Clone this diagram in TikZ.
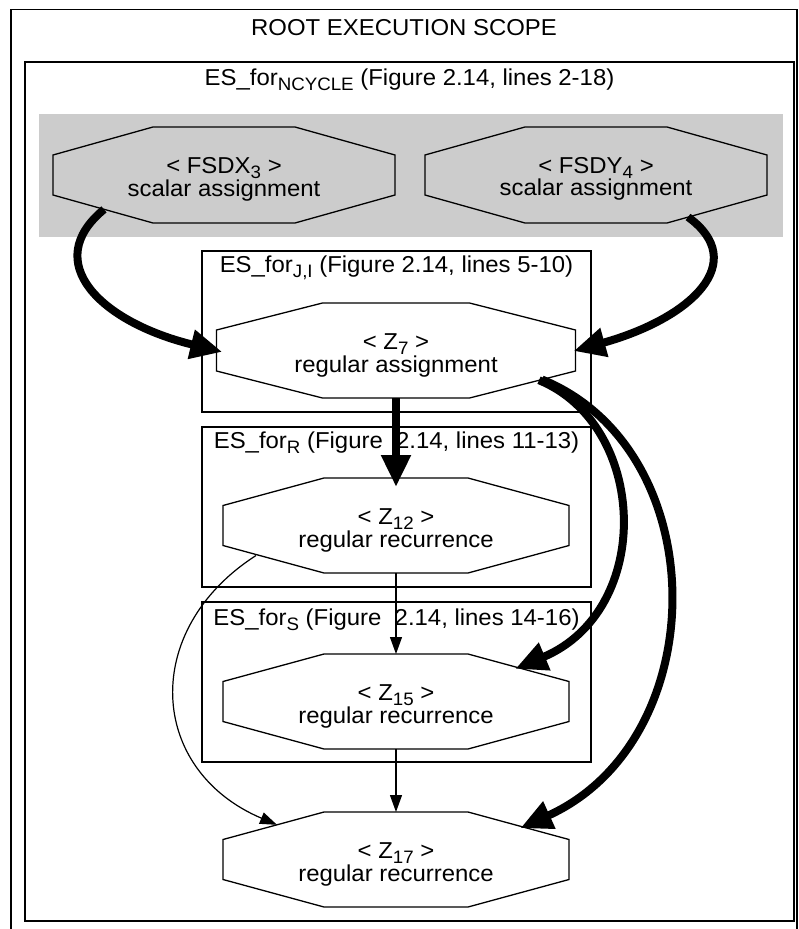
\documentclass[tikz,border=0pt]{standalone}
\usepackage{fontspec}
\setmainfont[FakeStretch=1.04]{Liberation Sans}
\usetikzlibrary{arrows.meta,calc}

% lowered, smaller text used for subscripts in labels
\newcommand{\lowsub}[1]{\raisebox{-5pt}{\fontsize{18}{18}\selectfont #1}}

% octagonal outline around a node: node name, horizontal cut, vertical cut
\newcommand{\octagon}[3]{%
  \draw[octline] ($(#1.north west)+(#2,0)$) -- ($(#1.north east)+(-#2,0)$)
    -- ($(#1.north east)+(0,#3)$) -- ($(#1.south east)+(0,-#3)$)
    -- ($(#1.south east)+(-#2,0)$) -- ($(#1.south west)+(#2,0)$)
    -- ($(#1.south west)+(0,-#3)$) -- ($(#1.north west)+(0,#3)$) -- cycle;}

\tikzset{
  labeltext/.style={font=\fontsize{23}{19}\selectfont, inner sep=0pt},
  stmttext/.style={font=\fontsize{23}{19}\selectfont, inner sep=0pt, align=center},
  scopebox/.style={draw, line width=1.4pt, inner sep=0pt, outer sep=0pt},
  stmtbox/.style={inner sep=0pt, outer sep=0pt, minimum width=346pt, minimum height=95pt},
  octline/.style={line width=1.3pt, line join=miter},
  thinedge/.style={-{Triangle[length=17pt,width=12pt]}, line width=1.2pt},
  heavyedge/.style={-{Triangle[length=32pt,width=28pt]}, line width=8pt},
}

\begin{document}
\begin{tikzpicture}[x=1pt,y=-1pt]
\useasboundingbox (0,0) rectangle (798,929);

% root scope (open at the bottom)
\draw[line width=1.4pt] (11,935) -- (11,9.5) -- (797,9.5) -- (797,935);
\node[labeltext] (rootlbl) at (404,28) {ROOT EXECUTION SCOPE};

% ES_for NCYCLE scope
\node[scopebox, minimum width=769pt, minimum height=859pt] (ncycle) at (409.5,491.5) {};
\node[labeltext] (ncyclelbl) at (409.5,80) {ES\_for\lowsub{NCYCLE} (Figure 2.14, lines 2-18)};

% shaded band holding the scalar assignments
\fill[gray!40] (39,114) rectangle (783,237);

% inner scopes
\node[scopebox, minimum width=389pt, minimum height=161pt] (scopeJI) at (396.5,331.5) {};
\node[labeltext] (lblJI) at (396.5,268) {ES\_for\lowsub{J,I} (Figure 2.14, lines 5-10)};
\node[scopebox, minimum width=389pt, minimum height=160pt] (scopeR) at (396.5,507) {};
\node[labeltext] (lblR) at (396.5,443) {ES\_for\lowsub{R} (Figure~ 2.14, lines 11-13)};
\node[scopebox, minimum width=389pt, minimum height=160pt] (scopeS) at (396.5,682) {};
\node[labeltext] (lblS) at (396.5,620) {ES\_for\lowsub{S} (Figure~ 2.14, lines 14-16)};

% statements: outline holders
\node[stmtbox, minimum width=342pt, minimum height=96pt] (fsdx) at (224,175) {};
\node[stmtbox, minimum width=342pt, minimum height=96pt] (fsdy) at (596,175) {};
\node[stmtbox, minimum width=359pt] (z7) at (396,350.5) {};
\node[stmtbox] (z12) at (396,525.5) {};
\node[stmtbox] (z15) at (396,701.5) {};
\node[stmtbox] (z17) at (396,859.5) {};
\octagon{fsdx}{100}{28}
\octagon{fsdy}{100}{28}
\octagon{z7}{106}{27}
\octagon{z12}{101}{27.5}
\octagon{z15}{101}{27.5}
\octagon{z17}{101}{27.5}

% statement texts
\node[stmttext] (fsdxt) at ($(fsdx.center)+(0,4)$) {< FSDX\lowsub{3} >\\scalar assignment};
\node[stmttext] (fsdyt) at ($(fsdy.center)+(0,4)$) {< FSDY\lowsub{4} >\\scalar assignment};
\node[stmttext] (z7t) at ($(z7.center)+(0,5)$) {< Z\lowsub{7} >\\regular assignment};
\node[stmttext] (z12t) at ($(z12.center)+(0,5)$) {< Z\lowsub{12} >\\regular recurrence};
\node[stmttext] (z15t) at ($(z15.center)+(0,5)$) {< Z\lowsub{15} >\\regular recurrence};
\node[stmttext] (z17t) at ($(z17.center)+(0,5)$) {< Z\lowsub{17} >\\regular recurrence};

% dependences
\draw[heavyedge, shorten >=-6pt] ($(fsdx.center)+(-120,34.4)$) .. controls (40,262) and (100,322) .. (z7.west);
\draw[heavyedge, shorten >=-2pt] ($(fsdy.center)+(92,42)$) .. controls (750,262) and (692,318) .. (z7.east);
\draw[heavyedge, shorten >=-9pt] (z7.south) -- (z12.north);
\draw[heavyedge, shorten >=-3pt] ($(z7.center)+(143,29.7)$) .. controls (648,425) and (655,610) .. ($(z15.center)+(122,-33.8)$);
\draw[heavyedge, shorten >=-3pt] ($(z7.center)+(146,29)$) .. controls (715,450) and (715,740) .. ($(z17.center)+(127,-32.5)$);
\draw[thinedge] (z12.south) -- (z15.north);
\draw[thinedge] (z15.south) -- (z17.north);
\draw[thinedge] ($(z12.center)+(-140,30)$) .. controls (140,630) and (148,770) .. ($(z17.center)+(-119,-34.7)$);
\end{tikzpicture}
\end{document}
